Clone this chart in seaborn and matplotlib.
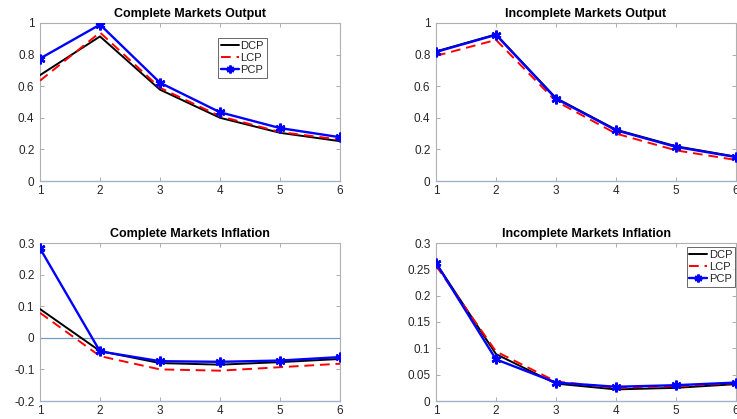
import matplotlib
matplotlib.use("Agg")
import matplotlib.pyplot as plt
import seaborn as sns
import numpy as np

periods = [1, 2, 3, 4, 5, 6]
series_names = ["DCP", "LCP", "PCP"]

comp_output_dcp = [0.67, 0.915, 0.578, 0.40, 0.305, 0.252]
comp_output_lcp = [0.635, 0.94, 0.59, 0.41, 0.31, 0.262]
comp_output_pcp = [0.775, 0.99, 0.622, 0.435, 0.335, 0.277]

incomp_output_dcp = [0.82, 0.928, 0.525, 0.325, 0.22, 0.154]
incomp_output_lcp = [0.792, 0.893, 0.505, 0.30, 0.194, 0.133]
incomp_output_pcp = [0.817, 0.925, 0.521, 0.321, 0.216, 0.151]

comp_infl_dcp = [0.091, -0.042, -0.080, -0.085, -0.077, -0.067]
comp_infl_lcp = [0.079, -0.058, -0.100, -0.104, -0.093, -0.082]
comp_infl_pcp = [0.283, -0.043, -0.074, -0.076, -0.072, -0.061]

incomp_infl_dcp = [0.262, 0.089, 0.033, 0.022, 0.025, 0.032]
incomp_infl_lcp = [0.257, 0.094, 0.037, 0.025, 0.028, 0.034]
incomp_infl_pcp = [0.262, 0.079, 0.035, 0.027, 0.030, 0.035]

titles = ["Complete Markets Output", "Incomplete Markets Output",
          "Complete Markets Inflation", "Incomplete Markets Inflation"]

sns.set_theme(style="white")
plt.rcParams["font.family"] = ["Liberation Sans", "DejaVu Sans"]

fig = plt.figure(figsize=(7.37, 4.19), dpi=100)
W, H = 737, 419
def ax_at(l, t, w, h):
    return fig.add_axes([l / W, 1 - (t + h) / H, w / W, h / H])

axes = [ax_at(40, 23, 300, 158), ax_at(436, 23, 300, 158),
        ax_at(40, 243, 300, 158), ax_at(436, 243, 300, 158)]

data = [
    (comp_output_dcp, comp_output_lcp, comp_output_pcp),
    (incomp_output_dcp, incomp_output_lcp, incomp_output_pcp),
    (comp_infl_dcp, comp_infl_lcp, comp_infl_pcp),
    (incomp_infl_dcp, incomp_infl_lcp, incomp_infl_pcp),
]
ylims = [(0, 1), (0, 1), (-0.2, 0.3), (0, 0.3)]
yticks = [np.arange(0, 1.01, 0.2), np.arange(0, 1.01, 0.2),
          np.arange(-0.2, 0.31, 0.1), np.arange(0, 0.31, 0.05)]
yfmt = [lambda v: "0" if abs(v) < 1e-9 else ("1" if abs(v - 1) < 1e-9 else f"{v:.1f}")] * 3 + \
       [lambda v: "0" if abs(v) < 1e-9 else f"{v:g}"]

star = (6, 2, 0)
txtc = "#262626"
for i, ax in enumerate(axes):
    dcp, lcp, pcp = data[i]
    if i == 2:
        ax.axhline(0, color="#6f9ec9", lw=0.9, zorder=1)
    sns.lineplot(x=periods, y=dcp, ax=ax, color="black", lw=1.4, label="DCP", zorder=3)
    sns.lineplot(x=periods, y=lcp, ax=ax, color="red", lw=1.4, label="LCP", zorder=3)
    ax.lines[-1].set_dashes([5, 3])
    sns.lineplot(x=periods, y=pcp, ax=ax, color="blue", lw=1.7, marker=star,
                 markersize=7, markeredgewidth=1.8, markeredgecolor="blue", label="PCP", zorder=4)
    ax.set_xlim(1, 6)
    ax.set_ylim(*ylims[i])
    ax.set_xticks(periods)
    ax.set_xticklabels([str(p) for p in periods])
    ax.set_yticks(yticks[i])
    ax.set_yticklabels([yfmt[i](v) for v in yticks[i]])
    ax.set_title(titles[i], fontsize=9, fontweight="bold", color="black", pad=4)
    ax.tick_params(direction="in", length=3, width=0.6, labelsize=8.5, colors="#a0a0a0",
                   labelcolor=txtc, top=True, right=True, bottom=True, left=True)
    ax.tick_params(axis="y", pad=4)
    ax.tick_params(axis="x", pad=3)
    for s in ["top", "right", "left"]:
        ax.spines[s].set_color("#b0b0b0")
        ax.spines[s].set_linewidth(0.8)
    ax.spines["bottom"].set_color("#9fb4c8")
    ax.spines["bottom"].set_linewidth(1.0)
    ax.set_xlabel("")
    ax.set_ylabel("")
    leg = ax.get_legend()
    if leg is not None:
        leg.remove()

for idx, (x, t, loc) in [(0, (218, 38, "upper left")), (3, (735, 247, "upper right"))]:
    pass

legend_specs = [(0, 218, 38, "upper left"), (3, 735, 247, "upper right")]
for idx, px, py, loc in legend_specs:
    ax = axes[idx]
    h, lab = ax.get_legend_handles_labels()
    leg = fig.legend(h, lab, loc=loc, bbox_to_anchor=(px / W, 1 - py / H),
                     fontsize=8, frameon=True, fancybox=False, borderpad=0.25,
                     handlelength=1.6, handletextpad=0.15, labelspacing=0.2,
                     borderaxespad=0, markerscale=0.8)
    leg.get_frame().set_edgecolor("#404040")
    leg.get_frame().set_linewidth(0.7)

fig.savefig("out.png", dpi=100)
